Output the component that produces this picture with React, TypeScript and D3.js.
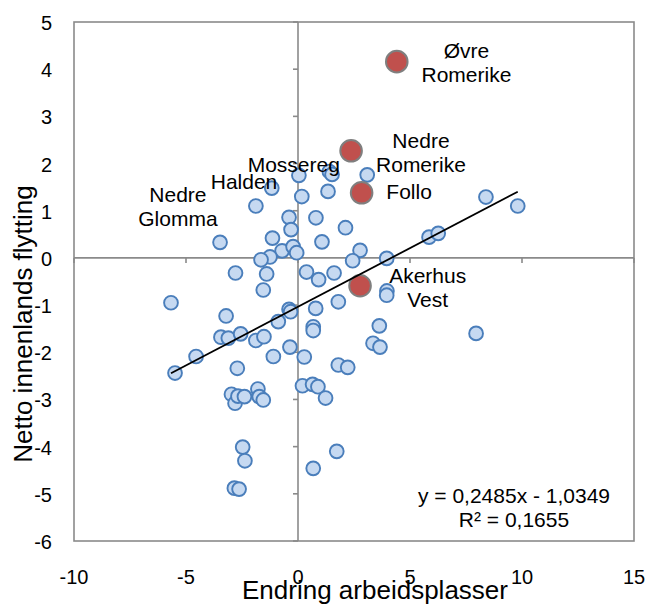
import React from 'react';
import * as d3 from 'd3';

// Axis ticks
const xTicks = [-10, -5, 0, 5, 10, 15];
const yTicks = [5, 4, 3, 2, 1, 0, -1, -2, -3, -4, -5, -6];

// Blue series: regions (Endring arbeidsplasser, Netto innenlands flytting)
const blueX = [
  3.09, 0.04, 1.40, 1.52, -1.17, 1.34, 0.17, -1.88, -0.40, 0.80,
  -0.31, 2.12, -1.14, 1.07, -3.48, -0.71, -0.22, -0.06, 2.77, 2.44,
  -1.25, -1.65, -2.79, -1.40, 0.38, 0.92, 1.61, -1.55, 3.96, 5.85,
  6.26, 8.39, 9.81, 3.97, 3.96, -5.67, -3.21, -0.40, -0.33, 0.79,
  1.80, -0.88, 0.68, 0.68, -3.44, -3.11, -2.56, -1.88, -1.52, 3.63,
  3.35, 3.66, -4.55, -5.49, -2.71, -1.10, -0.36, 0.28, 1.80, 2.22,
  0.20, 0.65, 0.89, 1.23, -2.97, -2.81, -2.68, -2.39, -1.79, -1.73,
  -1.55, -2.47, -2.37, 1.73, 0.68, -2.84, -2.63, 7.95,
];
const blueY = [
  1.76, 1.75, 1.83, 1.77, 1.48, 1.41, 1.30, 1.10, 0.86, 0.85,
  0.60, 0.64, 0.42, 0.34, 0.33, 0.15, 0.24, 0.11, 0.16, -0.06,
  0.02, -0.04, -0.32, -0.34, -0.30, -0.46, -0.32, -0.68, -0.01, 0.44,
  0.52, 1.29, 1.10, -0.70, -0.79, -0.95, -1.23, -1.09, -1.14, -1.07,
  -0.93, -1.35, -1.46, -1.54, -1.68, -1.70, -1.61, -1.75, -1.67, -1.44,
  -1.81, -1.89, -2.09, -2.44, -2.34, -2.09, -1.89, -2.10, -2.27, -2.32,
  -2.71, -2.68, -2.73, -2.97, -2.89, -3.08, -2.93, -2.94, -2.78, -2.94,
  -3.01, -4.01, -4.30, -4.10, -4.46, -4.88, -4.90, -1.60,
];

// Red series: highlighted Akershus regions
const redNames = ['Øvre Romerike', 'Nedre Romerike', 'Follo', 'Akerhus Vest'];
const redX = [4.41, 2.37, 2.84, 2.77];
const redY = [4.16, 2.27, 1.38, -0.59];

// Annotations (text lines, anchored in data units)
const labelLines = [
  ['Øvre', 'Romerike'],
  ['Nedre', 'Romerike'],
  ['Follo'],
  ['Mossereg'],
  ['Halden'],
  ['Nedre', 'Glomma'],
  ['Akerhus', 'Vest'],
];
const labelX = [7.52, 5.49, 4.96, -0.19, -2.41, -5.36, 5.79];
const labelY = [4.13, 2.24, 1.40, 1.97, 1.62, 1.09, -0.64];

// Linear trendline
const trendSlope = 0.2485;
const trendIntercept = -1.0349;
const rSquared = 0.1655;

const xTitle = 'Endring arbeidsplasser';
const yTitle = 'Netto innenlands flytting';

const W = 647;
const H = 606;
const FONT = "'Liberation Sans', Arial, sans-serif";

export default function App() {
  const plot = { left: 74, right: 634, top: 22, bottom: 541 };
  const x = d3.scaleLinear().domain([-10, 15]).range([plot.left, plot.right]);
  const y = d3.scaleLinear().domain([-6, 5]).range([plot.bottom, plot.top]);
  const x0 = x(0);
  const y0 = y(0);

  const allX = blueX.concat(redX);
  const [minX, maxX] = d3.extent(allX) as [number, number];
  const trend = d3.line<number>()
    .x((d) => x(d))
    .y((d) => y(trendSlope * d + trendIntercept));

  const fmt = (v: number) => v.toFixed(4).replace('.', ',');
  const eqText = `y = ${fmt(trendSlope)}x ${trendIntercept < 0 ? '-' : '+'} ${fmt(Math.abs(trendIntercept))}`;
  const r2Text = `R² = ${fmt(rSquared)}`;

  const axisColor = '#8a8a8a';

  return (
    <svg
      width={W}
      height={H}
      style={{ position: 'absolute', left: 0, top: 0, display: 'block', background: '#fff' }}
      fontFamily={FONT}
    >
      <rect x={0} y={0} width={W} height={H} fill="#fff" />
      {/* plot border */}
      <rect
        x={plot.left}
        y={plot.top}
        width={plot.right - plot.left}
        height={plot.bottom - plot.top}
        fill="none"
        stroke={axisColor}
        strokeWidth={1.6}
      />
      {/* axes through zero */}
      <line x1={plot.left} x2={plot.right} y1={y0} y2={y0} stroke={axisColor} strokeWidth={1.6} />
      <line x1={x0} x2={x0} y1={plot.top} y2={plot.bottom} stroke={axisColor} strokeWidth={1.6} />
      {xTicks.map((t) => (
        <line key={'xt' + t} x1={x(t)} x2={x(t)} y1={y0} y2={y0 + 5} stroke={axisColor} strokeWidth={1.6} />
      ))}
      {yTicks.map((t) => (
        <line key={'yt' + t} x1={x0 - 5} x2={x0} y1={y(t)} y2={y(t)} stroke={axisColor} strokeWidth={1.6} />
      ))}

      {/* tick labels */}
      {yTicks.map((t) => (
        <text key={'yl' + t} x={52} y={y(t) + 1} dy="0.35em" textAnchor="end" fontSize={20} fill="#000">
          {t}
        </text>
      ))}
      {xTicks.map((t) => (
        <text key={'xl' + t} x={x(t)} y={577} dy="0.35em" textAnchor="middle" fontSize={20} fill="#000">
          {t}
        </text>
      ))}

      {/* blue points */}
      {blueX.map((v, i) => (
        <circle
          key={'b' + i}
          cx={x(v)}
          cy={y(blueY[i])}
          r={6.9}
          fill="#c6d9f1"
          stroke="#4a7ebb"
          strokeWidth={1.9}
        />
      ))}
      {/* red points */}
      {redX.map((v, i) => (
        <circle
          key={'r' + i}
          cx={x(v)}
          cy={y(redY[i])}
          r={10.8}
          fill="#c0504d"
          stroke="#7f7f7f"
          strokeWidth={2}
        >
          <title>{redNames[i]}</title>
        </circle>
      ))}

      {/* trendline */}
      <path d={trend([minX, maxX]) || ''} fill="none" stroke="#000" strokeWidth={1.8} />

      {/* annotations */}
      {labelLines.map((lines, i) => (
        <text key={'lab' + i} textAnchor="middle" fontSize={21} fill="#000">
          {lines.map((s, j) => (
            <tspan
              key={j}
              x={x(labelX[i])}
              y={y(labelY[i]) + (j - (lines.length - 1) / 2) * 24}
              dy="0.35em"
            >
              {s}
            </tspan>
          ))}
        </text>
      ))}

      {/* equation */}
      <text x={514} y={496} dy="0.35em" textAnchor="middle" fontSize={21} fill="#000">
        {eqText}
      </text>
      <text x={514} y={520} dy="0.35em" textAnchor="middle" fontSize={21} fill="#000">
        {r2Text}
      </text>

      {/* axis titles */}
      <text x={375} y={599} textAnchor="middle" fontSize={26} fill="#000">
        {xTitle}
      </text>
      <text
        transform={`translate(32, 324) rotate(-90)`}
        textAnchor="middle"
        fontSize={26}
        fill="#000"
      >
        {yTitle}
      </text>
    </svg>
  );
}
